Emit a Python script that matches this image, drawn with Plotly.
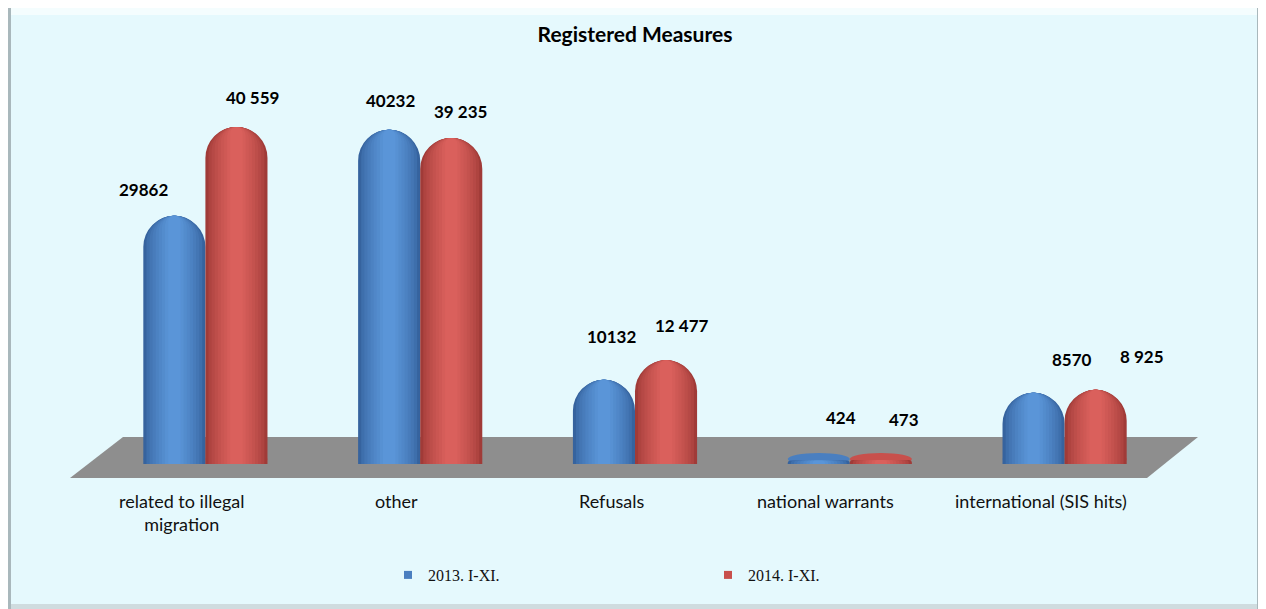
import plotly.graph_objects as go

# ---------------- data ----------------
categories = ["related to illegal migration", "other", "Refusals",
              "national warrants", "international (SIS hits)"]
category_labels = ["related to illegal<br>migration", "other", "Refusals",
                   "national warrants", "international (SIS hits)"]
series_names = ["2013. I-XI.", "2014. I-XI."]
values_2013 = [29862, 40232, 10132, 424, 8570]
values_2014 = [40559, 39235, 12477, 473, 8925]
labels_2013 = ["29862", "40232", "10132", "424", "8570"]
labels_2014 = ["40 559", "39 235", "12 477", "473", "8 925"]
title_text = "Registered Measures"

# ---------------- style ----------------
OFF = 8                       # page body margin of the html page
W, H = 1266 - OFF, 609 - OFF  # figure size so it ends at the window edge
# plot area in screenshot coordinates
PL_IMG, PR_IMG, PT_IMG, PB_IMG = 98, 1172, 90, 464
ML, MR = PL_IMG - OFF, W - (PR_IMG - OFF)
MT, MB = PT_IMG - OFF, H - (PB_IMG - OFF)
Y_MAX = 45000
BG = "#e5f9fd"
FONT = "Lato"
BAR_W = 0.289
BLUE_MID, RED_MID = "#4a7fc0", "#c8504c"


def mix(c1, c2, t):
    a = [int(c1[i:i + 2], 16) for i in (1, 3, 5)]
    b = [int(c2[i:i + 2], 16) for i in (1, 3, 5)]
    return "#" + "".join(f"{round(x + (y - x) * t):02x}" for x, y in zip(a, b))


N_LAYERS = 9
blue_layers = [(1 - k * 0.8 / (N_LAYERS - 1), mix("#36639e", "#5a95d8", (k / (N_LAYERS - 1)) ** 0.7))
               for k in range(N_LAYERS)]
red_layers = [(1 - k * 0.8 / (N_LAYERS - 1), mix("#a03b38", "#da605c", (k / (N_LAYERS - 1)) ** 0.7))
              for k in range(N_LAYERS)]

# per-label pixel offsets (from category centre / bar top)
DX_2013 = [-62, -30, -24, -9, 7]
DX_2014 = [47, 40, 47, 54, 77]
DY_2013 = [26, 29, 43, 43, 33]
DY_2014 = [29, 26, 35, 41, 33]


def px(x):  # screenshot x -> paper
    return (x - PL_IMG) / (PR_IMG - PL_IMG)


def py(y):  # screenshot y -> paper
    return (PB_IMG - y) / (PB_IMG - PT_IMG)


fig = go.Figure()

series = [
    (series_names[0], values_2013, blue_layers, -BAR_W / 2, BLUE_MID),
    (series_names[1], values_2014, red_layers, BAR_W / 2, RED_MID),
]
shapes = [
    # frame / panel
    dict(type="rect", xref="paper", yref="paper", x0=px(8), x1=px(1266), y0=py(8), y1=py(609),
         fillcolor="#a9b8bc", line=dict(width=0), layer="below"),
    dict(type="rect", xref="paper", yref="paper", x0=px(11), x1=px(1257), y0=py(8), y1=py(604),
         fillcolor=BG, line=dict(width=0), layer="below"),
    dict(type="rect", xref="paper", yref="paper", x0=px(11), x1=px(1257), y0=py(8), y1=py(15),
         fillcolor="#f4fdfe", line=dict(width=0), layer="below"),
    dict(type="rect", xref="paper", yref="paper", x0=px(11), x1=px(1257), y0=py(604), y1=py(609),
         fillcolor="#cfdcdf", line=dict(width=0), layer="below"),
    # floor
    dict(type="path", xref="paper", yref="paper",
         path=f"M {px(123)},{py(437)} L {px(1198)},{py(437)} L {px(1147)},{py(478)} L {px(70)},{py(478)} Z",
         fillcolor="#8e8e8e", line=dict(width=0), layer="below"),
]

for name, vals, layers, centre, mid in series:
    for frac, col in layers:
        w = BAR_W * frac
        fig.add_trace(go.Bar(
            x=categories, y=vals, width=w, offset=centre - w / 2,
            marker=dict(color=col, cornerradius="50%", line=dict(width=0)),
            name=name, showlegend=False, hoverinfo="skip",
        ))
    # elliptical base of each cylinder (3-D look)
    for i in range(len(categories)):
        shapes.append(dict(
            type="circle", xref="x", yref="y", ysizemode="pixel", yanchor=0,
            x0=i + centre - BAR_W / 2, x1=i + centre + BAR_W / 2, y0=-1, y1=11,
            fillcolor=mid, line=dict(width=0), layer="below",
        ))

# legend entries
for name, col in [(series_names[0], BLUE_MID), (series_names[1], RED_MID)]:
    fig.add_trace(go.Scatter(
        x=[None], y=[None], mode="markers", name=name,
        marker=dict(symbol="square", size=8, color=col),
    ))

# value labels
annotations = []
for labels, vals, dxs, dys in [(labels_2013, values_2013, DX_2013, DY_2013),
                               (labels_2014, values_2014, DX_2014, DY_2014)]:
    for cat, v, t, dx, dy in zip(categories, vals, labels, dxs, dys):
        annotations.append(dict(
            x=cat, y=v, xref="x", yref="y", text=t, showarrow=False,
            xshift=dx, yshift=dy, xanchor="center", yanchor="middle",
            font=dict(family=FONT, size=17, color="#000000", weight="bold"),
        ))

# category labels (shifted left for the perspective effect)
for cat, lab in zip(categories, category_labels):
    annotations.append(dict(
        x=cat, y=0, xref="x", yref="y", text=lab, showarrow=False,
        xshift=-24, yshift=-24, xanchor="center", yanchor="top",
        font=dict(family=FONT, size=18, color="#111111"),
    ))

fig.update_layout(
    width=W, height=H,
    margin=dict(l=ML, r=MR, t=MT, b=MB),
    paper_bgcolor="#ffffff", plot_bgcolor="rgba(0,0,0,0)",
    barmode="overlay",
    title=dict(text=title_text, x=0.5, xref="paper", xanchor="center",
               y=1 - (35 - OFF) / H, yref="container", yanchor="middle",
               font=dict(family=FONT, size=21, color="#000000", weight="bold")),
    xaxis=dict(type="category", range=[-0.5, 4.5], showticklabels=False,
               showgrid=False, zeroline=False, showline=False, ticks=""),
    yaxis=dict(range=[0, Y_MAX], visible=False, showgrid=False, zeroline=False),
    showlegend=True,
    legend=dict(orientation="h", x=px(388), y=py(575), xanchor="left", yanchor="middle",
                bgcolor="rgba(0,0,0,0)", entrywidth=275, entrywidthmode="pixels",
                font=dict(family="Liberation Serif", size=16, color="#111111")),
    annotations=annotations,
    shapes=shapes,
)

fig.write_html("out.html")
